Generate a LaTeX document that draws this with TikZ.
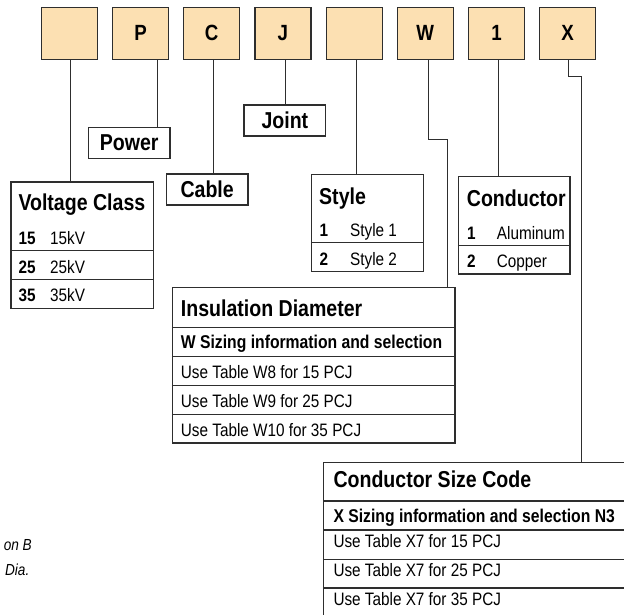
\documentclass[tikz,border=0pt]{standalone}
\usepackage{fontspec}
\setmainfont{Liberation Sans}[FakeStretch=0.85]
\definecolor{peach}{HTML}{FCE0B2}
\definecolor{ink}{HTML}{2E2E2E}
\newcommand\myhead{\fontsize{23}{26}\selectfont\bfseries}
\newcommand\myrow{\fontsize{18}{21}\selectfont}
\newcommand\myrowb{\fontsize{18}{21}\selectfont\bfseries}
\newcommand\mysub{\fontsize{18.5}{21}\selectfont\bfseries}
\begin{document}
\begin{tikzpicture}[x=1pt,y=-1pt,
  topbox/.style={draw=ink, line width=1.2pt, fill=peach, minimum width=56pt, minimum height=52pt, inner sep=0pt, font=\fontsize{22}{24}\selectfont\bfseries},
  lblbox/.style={draw=ink, line width=1.1pt, fill=white, minimum width=81.7pt, minimum height=31pt, inner sep=0pt, font=\myhead},
  tbl/.style={draw=ink, line width=1.1pt, fill=white, inner sep=0pt},
  rule/.style={draw=ink, line width=1.1pt},
  txt/.style={anchor=base west, inner sep=0pt},
  conn/.style={draw=ink, line width=0.9pt}]
\useasboundingbox (0,0) rectangle (624,615);
\clip (0,0) rectangle (624,615);

% top code boxes
\foreach \i/\t in {1/{},2/P,3/C,4/J,5/{},6/W,7/1,8/X}
  \node[topbox] (b\i) at ({69.3+71.2*(\i-1)},33.3) {\t};

% label boxes
\node[lblbox] (pw) at (129.15,142.65) {Power};
\node[lblbox] (jt) at (284.85,120.5) {Joint};
\node[lblbox] (cb) at (207.15,189.5) {Cable};

% Voltage Class table
\node[tbl, minimum width=142.7pt, minimum height=126.3pt] (vc) at (82.35,245.15) {};
\draw[rule] (vc.west |- 0,250.7) -- (vc.east |- 0,250.7);
\draw[rule] (vc.west |- 0,279.3) -- (vc.east |- 0,279.3);
\node[txt,font=\myhead] (vch) at (18.3,210.7) {Voltage Class};
\node[txt,font=\myrowb] (vc1n) at (18.3,244) {15};
\node[txt,font=\myrow] (vc1t) at (50,244) {15kV};
\node[txt,font=\myrowb] (vc2n) at (18.3,273) {25};
\node[txt,font=\myrow] (vc2t) at (50,273) {25kV};
\node[txt,font=\myrowb] (vc3n) at (18.3,301.5) {35};
\node[txt,font=\myrow] (vc3t) at (50,301.5) {35kV};

% Style table
\node[tbl, minimum width=111.6pt, minimum height=97.4pt] (st) at (367.5,223) {};
\draw[rule] (st.west |- 0,242.7) -- (st.east |- 0,242.7);
\node[txt,font=\myhead] (sth) at (319,204.2) {Style};
\node[txt,font=\myrowb] (st1n) at (319.5,236) {1};
\node[txt,font=\myrow] (st1t) at (350,236) {Style 1};
\node[txt,font=\myrowb] (st2n) at (319.5,265) {2};
\node[txt,font=\myrow] (st2t) at (350,265) {Style 2};

% Conductor table
\node[tbl, minimum width=111.7pt, minimum height=97.3pt] (cd) at (514.15,225.35) {};
\draw[rule] (cd.west |- 0,245.7) -- (cd.east |- 0,245.7);
\node[txt,font=\myhead] (cdh) at (466.7,206) {Conductor};
\node[txt,font=\myrowb] (cd1n) at (467,239) {1};
\node[txt,font=\myrow] (cd1t) at (496.7,239) {Aluminum};
\node[txt,font=\myrowb] (cd2n) at (467,267) {2};
\node[txt,font=\myrow] (cd2t) at (496.7,267) {Copper};

% Insulation Diameter table
\node[tbl, minimum width=282.7pt, minimum height=155.7pt] (ins) at (313.65,365.15) {};
\foreach \yy in {327.7,356.3,385.3,414.3}
  \draw[rule] (ins.west |- 0,\yy) -- (ins.east |- 0,\yy);
\node[txt,font=\myhead] (insh) at (180.7,316) {Insulation Diameter};
\node[txt,font=\mysub] (inss) at (180.7,348.5) {W Sizing information and selection};
\node[txt,font=\myrow] (ins1) at (180.7,378.5) {Use Table W8 for 15 PCJ};
\node[txt,font=\myrow] (ins2) at (180.7,407.5) {Use Table W9 for 25 PCJ};
\node[txt,font=\myrow] (ins3) at (180.7,436.5) {Use Table W10 for 35 PCJ};

% Conductor Size Code table (runs past the right and bottom edges)
\node[tbl, minimum width=316.7pt, minimum height=167.7pt] (csc) at (481.65,546.15) {};
\foreach \yy in {501,530,559.3,588}
  \draw[rule] (csc.west |- 0,\yy) -- (csc.east |- 0,\yy);
\node[txt,font=\myhead] (csch) at (333.3,487.7) {Conductor Size Code};
\node[txt,font=\mysub] (cscs) at (333.3,522.7) {X Sizing information and selection N3};
\node[txt,font=\myrow] (csc1) at (333.3,547.7) {Use Table X7 for 15 PCJ};
\node[txt,font=\myrow] (csc2) at (333.3,576.7) {Use Table X7 for 25 PCJ};
\node[txt,font=\myrow] (csc3) at (333.3,605) {Use Table X7 for 35 PCJ};

% cut-off side note
\node[anchor=base east, inner sep=0pt, font=\fontsize{16}{18}\selectfont\itshape] (n1) at (32,550.5) {on B};
\node[anchor=base east, inner sep=0pt, font=\fontsize{16}{18}\selectfont\itshape] (n2) at (29.5,575) {Dia.};

% connectors
\draw[conn] ([xshift=1pt]b1.south) -- ([xshift=1pt]b1.south |- vc.north);
\draw[conn] ([xshift=16.8pt]b2.south) -- ([xshift=16.8pt]b2.south |- pw.north);
\draw[conn] ([xshift=2pt]b3.south) -- ([xshift=2pt]b3.south |- cb.north);
\draw[conn] ([xshift=2.1pt]b4.south) -- ([xshift=2.1pt]b4.south |- jt.north);
\draw[conn] ([xshift=1.9pt]b5.south) -- ([xshift=1.9pt]b5.south |- st.north);
\coordinate (k6) at (447,139.7);
\draw[conn] ([xshift=3.4pt]b6.south) |- (k6) -- (k6 |- ins.north);
\draw[conn] ([xshift=1.8pt]b7.south) -- ([xshift=1.8pt]b7.south |- cd.north);
\coordinate (k8) at (581.3,76);
\draw[conn] ([xshift=0.3pt]b8.south) |- (k8) -- (k8 |- csc.north);
\end{tikzpicture}
\end{document}
